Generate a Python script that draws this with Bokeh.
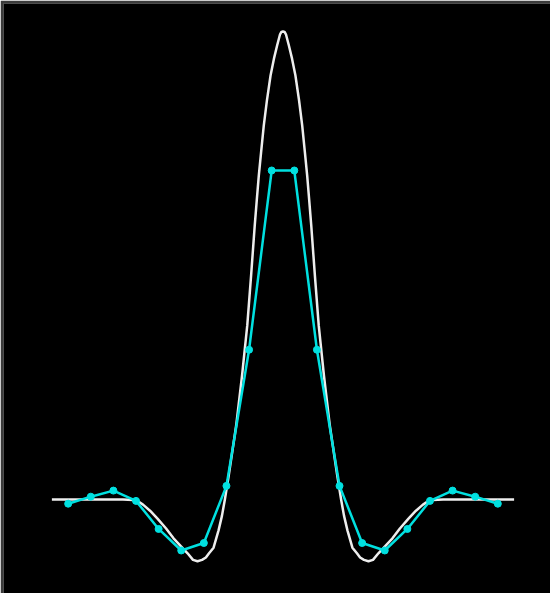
from bokeh.plotting import figure
from bokeh.models import Range1d
from bokeh.embed import file_html
from bokeh.resources import INLINE

# Continuous (white) curve (left half, then right half)
curve_x = [-10.22, -7.08, -6.63, -6.41, -6.19, -5.88, -5.55, -5.17, -4.84, -4.51, -4.22, -3.98,
           -3.78, -3.58, -3.41, -3.27, -3.07, -2.85, -2.70, -2.57, -2.40, -2.07, -1.81, -1.58,
           -1.41, -1.25, -1.16, -1.07, -0.97, -0.85, -0.71, -0.55, -0.40, -0.26, -0.13, -0.07, 0.0,
           0.07, 0.13, 0.26, 0.40, 0.55, 0.71, 0.85, 0.97, 1.07, 1.16, 1.25, 1.41,
           1.58, 1.81, 2.07, 2.40, 2.57, 2.70, 2.85, 3.07, 3.27, 3.41, 3.58, 3.78,
           3.98, 4.22, 4.51, 4.84, 5.17, 5.55, 5.88, 6.19, 6.41, 6.63, 7.08, 10.22]
curve_y = [0.0, 0.0, -0.001, -0.004, -0.011, -0.024, -0.041, -0.062, -0.083, -0.100, -0.115, -0.129,
           -0.132, -0.129, -0.124, -0.115, -0.103, -0.066, -0.035, 0.0, 0.051, 0.158, 0.265, 0.372,
           0.479, 0.585, 0.639, 0.692, 0.741, 0.799, 0.853, 0.906, 0.942, 0.970, 0.994, 0.999, 1.0,
           0.999, 0.994, 0.970, 0.942, 0.906, 0.853, 0.799, 0.741, 0.692, 0.639, 0.585, 0.479,
           0.372, 0.265, 0.158, 0.051, 0.0, -0.035, -0.066, -0.103, -0.115, -0.124, -0.129, -0.132,
           -0.129, -0.115, -0.100, -0.083, -0.062, -0.041, -0.024, -0.011, -0.004, -0.001, 0.0, 0.0]

# Sampled (cyan) points
sample_x = [-9.5, -8.5, -7.5, -6.5, -5.5, -4.5, -3.5, -2.5, -1.5, -0.5,
            0.5, 1.5, 2.5, 3.5, 4.5, 5.5, 6.5, 7.5, 8.5, 9.5]
sample_y = [-0.009, 0.006, 0.019, -0.003, -0.063, -0.109, -0.093, 0.029, 0.320, 0.703,
            0.703, 0.320, 0.029, -0.093, -0.109, -0.063, -0.003, 0.019, 0.006, -0.009]

p = figure(width=550, height=593, output_backend="svg", toolbar_location=None,
           x_range=Range1d(-12.36, 11.83), y_range=Range1d(-0.2009, 1.0598),
           x_axis_location=None, y_axis_location=None,
           min_border_left=3, min_border_top=3, min_border_right=0, min_border_bottom=0,
           background_fill_color="black", border_fill_color="#3c3c3c",
           outline_line_color=None)
p.grid.visible = False

p.line(curve_x, curve_y, line_color="#eeeeee", line_width=2.5, line_join="round")
p.line(sample_x, sample_y, line_color="#00e0e0", line_width=2.5, line_join="round")
p.scatter(sample_x, sample_y, size=7, fill_color="#00e0e0", line_color="#00e0e0")

open("out.html", "w").write(file_html(p, INLINE))
